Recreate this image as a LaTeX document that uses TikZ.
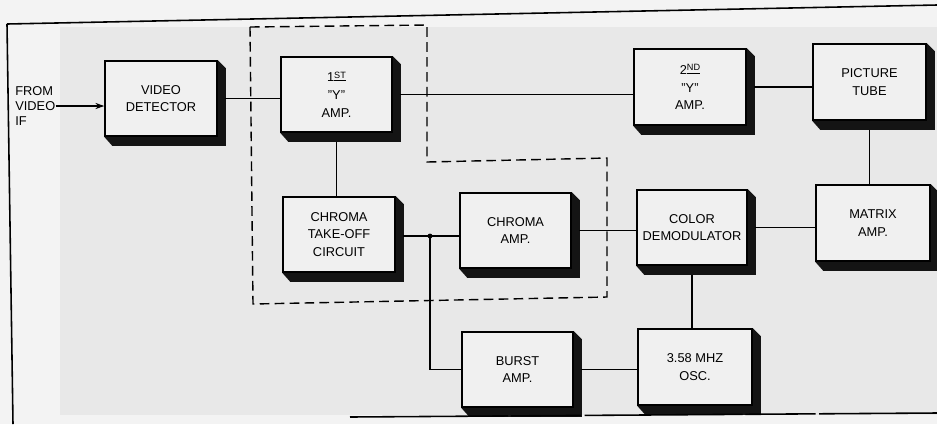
\documentclass[tikz,border=0pt]{standalone}
\usepackage{fontspec}
\setmainfont{Liberation Sans}
\usetikzlibrary{calc,arrows.meta}
\definecolor{outerbg}{HTML}{F3F3F3}
\definecolor{paper}{HTML}{E8E8E8}
\definecolor{boxfill}{HTML}{F0F0F0}
\definecolor{shadowcol}{HTML}{141414}
\pgfdeclarelayer{bg}
\pgfsetlayers{bg,main}
\newcommand\boxshadow[1]{\fill[shadowcol] (#1.south west) -- ++(8,9) -- ($(#1.south east)+(8,9)$) -- ($(#1.north east)+(8,8)$) -- (#1.north east) -- cycle;}
\newcommand\ordsup[1]{\raisebox{0.55ex}{\underline{\fontsize{5.2}{6}\selectfont #1}}}
\begin{document}
\begin{tikzpicture}[x=0.02cm,y=-0.02cm,
  blockbox/.style={draw=black, line width=0.9pt, fill=boxfill, align=center,
    font=\fontsize{7.3}{10}\selectfont, inner sep=0pt, minimum height=1.5cm},
  wire/.style={draw=black, line width=0.7pt},
  frameline/.style={draw=black, line width=0.9pt},
  groupline/.style={draw=black, line width=0.8pt, dash pattern=on 5.5pt off 3pt}]
\useasboundingbox (0,0) rectangle (937,424);
\begin{pgfonlayer}{bg}
  \fill[outerbg] (0,0) rectangle (937,424);
  \fill[paper] (60,27) rectangle (937,415);
\end{pgfonlayer}
% frame
\draw[frameline] (7,24) -- (937,5);
\draw[frameline] (7,24) -- (13,424);
\draw[frameline, dash pattern=on 90pt off 1.5pt on 40pt off 2pt] (350,417) -- (937,413);

% blocks
\node[blockbox, minimum width=2.24cm] (vd) at (161,98.5) {VIDEO\\DETECTOR};
\node[blockbox, minimum width=2.22cm] (ya) at (336.5,94.5) {1\ordsup{ST}\\"Y"\\AMP.};
\node[blockbox, minimum width=2.24cm, minimum height=1.52cm] (yb) at (690,87) {2\ordsup{ND}\\"Y"\\AMP.};
\node[blockbox, minimum width=2.26cm, minimum height=1.52cm] (pt) at (869.5,82) {PICTURE\\TUBE};
\node[blockbox, minimum width=2.24cm] (ct) at (339,234.5) {CHROMA\\TAKE-OFF\\CIRCUIT};
\node[blockbox, minimum width=2.22cm] (ca) at (515.5,230.5) {CHROMA\\AMP.};
\node[blockbox, minimum width=2.2cm] (cd) at (692,227.5) {COLOR\\DEMODULATOR};
\node[blockbox, minimum width=2.28cm, minimum height=1.52cm] (ma) at (873,223) {MATRIX\\AMP.};
\node[blockbox, minimum width=2.22cm] (ba) at (517.5,369.5) {BURST\\AMP.};
\node[blockbox, minimum width=2.28cm, minimum height=1.52cm] (os) at (695,367) {3.58 MHZ\\OSC.};

\begin{pgfonlayer}{bg}
  \foreach \n in {vd,ya,yb,pt,ct,ca,cd,ma,ba,os} {\boxshadow{\n}}
\end{pgfonlayer}

% input label
\node[font=\fontsize{7.3}{8.6}\selectfont, align=left, anchor=west, inner sep=0pt] (src) at (15,106) {FROM\\VIDEO\\IF};

% group boundary
\draw[groupline] (250,27) -- (427,25) -- (427,162) -- (607,158) -- (607,297) -- (253,304) -- cycle;

% connectors
\draw[wire, -{Stealth[length=5pt,width=3.5pt]}] (src.east) -- (src.east -| vd.west);
\draw[wire] ([xshift=4pt]vd.east) -- (vd.east -| ya.west);
\draw[wire] ([xshift=4pt]ya.east) -- (ya.east -| yb.west);
\draw[wire] ([xshift=4pt]yb.east) -- (yb.east -| pt.west);
\draw[wire] ([yshift=-5pt]pt.south) -- (pt.south |- ma.north);
\draw[wire] ([yshift=-5pt]ya.south) -- (ya.south |- ct.north);
\coordinate (j) at (430,236);
\draw[wire] ([xshift=4pt]ct.east |- j) -- (j) -- (j -| ca.west);
\draw[wire] (j) |- (ba.west);
\fill (j) circle (1.4pt);
\draw[wire] ([xshift=4pt]ca.east) -- (ca.east -| cd.west);
\draw[wire] ([xshift=4pt]cd.east) -- (cd.east -| ma.west);
\draw[wire] ([yshift=-5pt]cd.south) -- (cd.south |- os.north);
\draw[wire] ([xshift=4pt]ba.east) -- (ba.east -| os.west);
\end{tikzpicture}
\end{document}
